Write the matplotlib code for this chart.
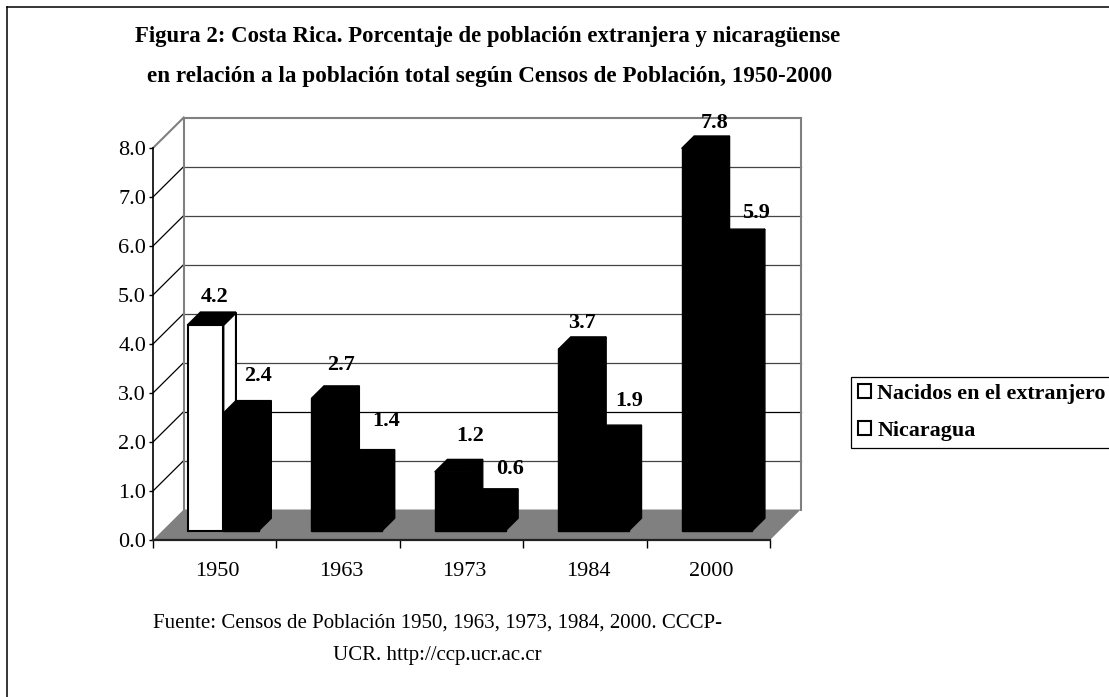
import matplotlib
matplotlib.use('Agg')
import matplotlib.pyplot as plt
from matplotlib.lines import Line2D
from matplotlib.patches import Patch, Polygon

plt.rcParams['font.family'] = ['Liberation Serif', 'DejaVu Serif']

years = ['1950', '1963', '1973', '1984', '2000']
nacidos = [4.2, 2.7, 1.2, 3.7, 7.8]
nicaragua = [2.4, 1.4, 0.6, 1.9, 5.9]
y_ticks = [0, 1, 2, 3, 4, 5, 6, 7, 8]
title_lines = ['Figura 2: Costa Rica. Porcentaje de población extranjera y nicaragüense',
               'en relación a la población total según Censos de Población, 1950-2000']
fuente_lines = ['Fuente: Censos de Población 1950, 1963, 1973, 1984, 2000. CCCP-',
                'UCR. http://ccp.ucr.ac.cr']

# label offsets from the top of each bar, in pixels
nacidos_off = [(-4, 10), (-1, 16), (5, 18), (-6, 9), (3, 8)]
nicaragua_off = [(4, 20), (9, 24), (10, 15), (5, 19), (9, 11)]

W, H = 1109, 697
fig = plt.figure(figsize=(W / 100, H / 100), dpi=100)
ax = fig.add_axes([153 / W, 1 - 540 / H, 617 / W, 392 / H])
ax.set_xlim(0, 5)
ax.set_ylim(0, 8)
ax.patch.set_visible(False)

# fake 3d: d=0 is the front plane, d=1 the back wall
DX = 0.249
DY = 0.622


def proj(x, v, d):
    return x + d * DX, v + d * DY


def add_poly(points, fc, ec, lw, z):
    ax.add_patch(Polygon(points, closed=True, facecolor=fc, edgecolor=ec,
                         linewidth=lw, zorder=z, clip_on=False, joinstyle='miter'))


# floor
add_poly([proj(0, 0, 0), proj(0, 0, 1), proj(5, 0, 1), proj(5, 0, 0)], '#808080', 'none', 0, 1)

# walls
for v in y_ticks[1:]:
    c = 'black' if v == 2 else '#444444'
    if v == 8:
        c = '#808080'
    lw = 1.5 if v == 8 else 0.9
    x0, y0 = proj(0, v, 1)
    x1, y1 = proj(5, v, 1)
    ax.plot([x0, x1], [y0, y1], color=c, lw=lw, zorder=1, clip_on=False)
    xa, ya = proj(0, v, 0)
    ax.plot([xa, x0], [ya, y0], color='#808080' if v == 8 else 'black', lw=lw, zorder=1, clip_on=False)
for x in [0, 5]:
    x0, y0 = proj(x, 0, 1)
    x1, y1 = proj(x, 8, 1)
    ax.plot([x0, x1], [y0, y1], color='#808080', lw=1.5, zorder=1, clip_on=False)

# bars
BAR_START = 0.2077
BAR_W = 0.2865
D0 = 0.305
D1 = 0.715


def bar3d(x, v, front, z):
    x2 = x + BAR_W
    lw = 1.5 if front == 'white' else 1.0
    add_poly([proj(x2, 0, D0), proj(x2, 0, D1), proj(x2, v, D1), proj(x2, v, D0)], front, 'black', lw, z)
    add_poly([proj(x, 0, D0), proj(x2, 0, D0), proj(x2, v, D0), proj(x, v, D0)], front, 'black', lw, z)
    add_poly([proj(x, v, D0), proj(x2, v, D0), proj(x2, v, D1), proj(x, v, D1)], 'black', 'black', lw, z)


def value_label(x, v, off):
    ax.annotate(f'{v:.1f}', xy=proj(x + BAR_W / 2, v, D1), xytext=off, textcoords='offset pixels',
                ha='center', va='baseline', fontsize=16, fontweight='bold', zorder=10,
                annotation_clip=False)


for i in range(len(years)):
    front = 'white' if i == 0 else 'black'
    bar3d(i + BAR_START, nacidos[i], front, 3 + i * 2)
    bar3d(i + BAR_START + BAR_W, nicaragua[i], 'black', 4 + i * 2)
    value_label(i + BAR_START, nacidos[i], nacidos_off[i])
    value_label(i + BAR_START + BAR_W, nicaragua[i], nicaragua_off[i])

# axes
ax.spines['top'].set_visible(False)
ax.spines['right'].set_visible(False)
ax.spines['left'].set_linewidth(1.2)
ax.spines['bottom'].set_linewidth(1.6)
ax.spines['bottom'].set_color('#222222')
ax.set_yticks(y_ticks)
ax.set_yticklabels([f'{v:.1f}' for v in y_ticks], fontsize=16)
ax.tick_params(axis='y', length=3, width=1, pad=2)
ax.set_xticks(range(len(years) + 1))
ax.set_xticklabels([])
ax.tick_params(axis='x', which='major', length=6, width=1)
ax.set_xticks([i + 0.525 for i in range(len(years))], minor=True)
ax.set_xticklabels(years, minor=True, fontsize=16)
ax.tick_params(axis='x', which='minor', length=0, pad=16)

# titles and source
fig.text(487.5 / W, 1 - 42 / H, title_lines[0], ha='center', va='baseline', fontsize=16.4, fontweight='bold')
fig.text(490 / W, 1 - 82 / H, title_lines[1], ha='center', va='baseline', fontsize=16.7, fontweight='bold')
fig.text(437 / W, 1 - 628 / H, fuente_lines[0], ha='center', va='baseline', fontsize=15)
fig.text(437 / W, 1 - 660 / H, fuente_lines[1], ha='center', va='baseline', fontsize=15)

# outer frame, cut by the image on the right and bottom
fig.add_artist(Line2D([6.5 / W, 6.5 / W], [0, 1 - 6.5 / H], color='black', lw=1.1))
fig.add_artist(Line2D([6.5 / W, 1], [1 - 6.5 / H, 1 - 6.5 / H], color='black', lw=1.1))

handles = [Patch(facecolor='white', edgecolor='black', linewidth=1.5),
           Patch(facecolor='white', edgecolor='black', linewidth=1.5)]
leg = fig.legend(handles, ['Nacidos en el extranjero', 'Nicaragua'],
                 loc='upper left', bbox_to_anchor=(851 / W, 1 - 377 / H),
                 prop={'size': 15.8, 'weight': 'bold'}, fancybox=False, framealpha=1,
                 edgecolor='black', handlelength=0.6, handleheight=0.6, handletextpad=0.3,
                 borderaxespad=0, borderpad=0.3, labelspacing=0.8)
leg.get_frame().set_linewidth(0.9)

fig.savefig('out.png', dpi=100)
